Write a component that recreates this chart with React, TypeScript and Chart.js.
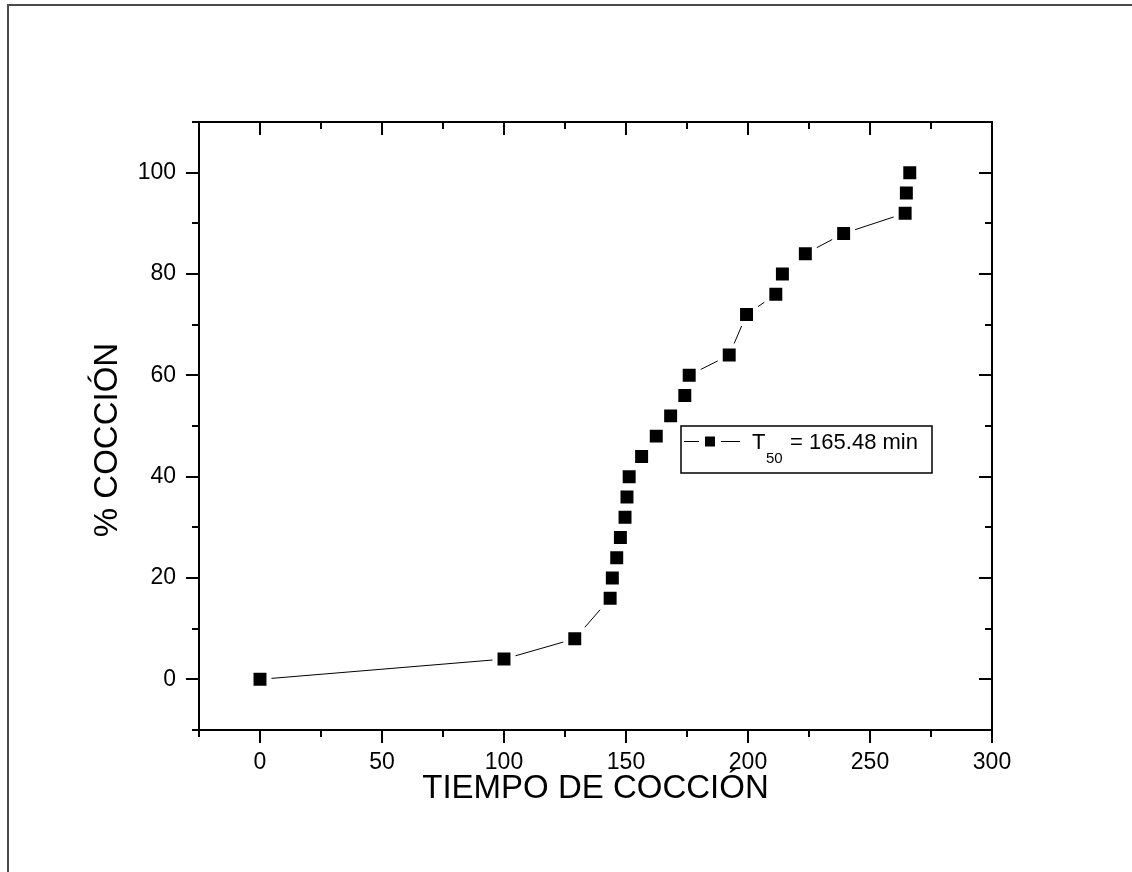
import React, { useEffect, useRef } from 'react';
import { Chart, registerables } from 'chart.js';

Chart.register(...registerables);

// ---- Data ----
const cookingTime = [0, 100, 129, 143.5, 144.4, 146.2, 147.7, 149.6, 150.4, 151.3, 156.4, 162.4, 168.3, 174.1, 175.9, 192.3, 199.4, 211.4, 214.1, 223.5, 239.2, 264.4, 264.9, 266.3];
const cookedPercent = [0, 4, 8, 16, 20, 24, 28, 32, 36, 40, 44, 48, 52, 56, 60, 64, 72, 76, 80, 84, 88, 92, 96, 100];

const xMajorTicks = [0, 50, 100, 150, 200, 250, 300];
const xMinorTicks = [-25, 25, 75, 125, 175, 225, 275];
const yMajorTicks = [0, 20, 40, 60, 80, 100];
const yMinorTicks = [-10, 10, 30, 50, 70, 90, 110];

const xTitle = 'TIEMPO DE COCCIÓN';
const yTitle = '% COCCIÓN';
const legendMain = 'T';
const legendSub = '50';
const legendRest = ' = 165.48 min';

const FONT = '"Liberation Sans", Arial, Helvetica, sans-serif';

const framePlugin = {
  id: 'originFrame',
  beforeDraw(chart: any) {
    const ctx = chart.ctx;
    ctx.save();
    ctx.fillStyle = '#ffffff';
    ctx.fillRect(0, 0, chart.width, chart.height);
    ctx.fillStyle = '#4a4a4a';
    ctx.fillRect(7, 4, chart.width - 7, 2);
    ctx.fillRect(7, 4, 2, chart.height - 4);
    ctx.restore();
  },
  afterDraw(chart: any) {
    const ctx = chart.ctx;
    const { left, right, top, bottom } = chart.chartArea;
    const xs = chart.scales.x;
    const ys = chart.scales.y;
    ctx.save();
    ctx.strokeStyle = '#000';
    ctx.lineWidth = 2;
    ctx.strokeRect(left, top, right - left, bottom - top);
    const major = 13;
    const minor = 7;
    ctx.beginPath();
    const xTick = (v: number, len: number) => {
      const p = Math.round(xs.getPixelForValue(v));
      ctx.moveTo(p, bottom);
      ctx.lineTo(p, bottom + len);
      ctx.moveTo(p, top);
      ctx.lineTo(p, top + len);
    };
    const yTick = (v: number, len: number) => {
      const p = Math.round(ys.getPixelForValue(v));
      ctx.moveTo(left - len, p);
      ctx.lineTo(left, p);
      ctx.moveTo(right - len, p);
      ctx.lineTo(right, p);
    };
    xMajorTicks.forEach((v) => xTick(v, major));
    xMinorTicks.forEach((v) => xTick(v, minor));
    yMajorTicks.forEach((v) => yTick(v, major));
    yMinorTicks.forEach((v) => yTick(v, minor));
    ctx.stroke();

    // Y axis title (rotated), centred slightly below the plot centre as in the reference
    ctx.fillStyle = '#000';
    ctx.font = `33px ${FONT}`;
    ctx.textAlign = 'center';
    ctx.textBaseline = 'middle';
    ctx.save();
    ctx.translate(108, (top + bottom) / 2 + 14);
    ctx.rotate(-Math.PI / 2);
    ctx.fillText(yTitle, 0, 0);
    ctx.restore();

    // Legend box
    const lx = left + 482;
    const ly = top + 304;
    const lw = 251;
    const lh = 47;
    ctx.lineWidth = 1.5;
    ctx.strokeRect(lx, ly, lw, lh);
    const cy = ly + 15.5;
    ctx.lineWidth = 1;
    ctx.beginPath();
    ctx.moveTo(lx + 3, cy);
    ctx.lineTo(lx + 18, cy);
    ctx.moveTo(lx + 40, cy);
    ctx.lineTo(lx + 59, cy);
    ctx.stroke();
    ctx.fillRect(lx + 24, cy - 5, 10, 10);
    ctx.textBaseline = 'alphabetic';
    ctx.textAlign = 'left';
    ctx.font = `22px ${FONT}`;
    ctx.fillText(legendMain, lx + 71, ly + 23);
    ctx.font = `15px ${FONT}`;
    ctx.fillText(legendSub, lx + 85, ly + 37);
    ctx.font = `22px ${FONT}`;
    ctx.fillText(legendRest, lx + 103, ly + 23);
    ctx.restore();
  },
};

export default function App() {
  const canvasRef = useRef<HTMLCanvasElement | null>(null);

  useEffect(() => {
    if (!canvasRef.current) return;
    const chart = new Chart(canvasRef.current, {
      type: 'scatter',
      data: {
        datasets: [
          {
            label: 'T50 = 165.48 min',
            data: cookingTime.map((x, i) => ({ x, y: cookedPercent[i] })),
            showLine: true,
            borderColor: '#000',
            borderWidth: 1,
            tension: 0,
            pointStyle: 'rect',
            pointRadius: 12.7,
            pointHoverRadius: 12.7,
            pointBackgroundColor: '#000',
            pointBorderColor: '#fff',
            pointBorderWidth: 5,
            clip: false,
          } as any,
        ],
      },
      options: {
        animation: false,
        responsive: true,
        maintainAspectRatio: false,
        layout: { padding: { top: 122, right: 140, left: 0, bottom: 0 } },
        plugins: {
          legend: { display: false },
          tooltip: { enabled: false },
        },
        events: [],
        scales: {
          x: {
            type: 'linear',
            min: -25,
            max: 300,
            afterBuildTicks: (s: any) => {
              s.ticks = xMajorTicks.map((v) => ({ value: v }));
            },
            afterFit: (s: any) => {
              s.height = 142;
            },
            grid: { display: false, drawTicks: false },
            border: { display: false },
            ticks: {
              padding: 19,
              color: '#000',
              autoSkip: false,
              maxRotation: 0,
              font: { family: FONT, size: 23 },
            },
            title: {
              display: true,
              text: xTitle,
              color: '#000',
              font: { family: FONT, size: 33 },
              padding: { top: 0, bottom: 63 },
            },
          },
          y: {
            type: 'linear',
            min: -10,
            max: 110,
            afterBuildTicks: (s: any) => {
              s.ticks = yMajorTicks.map((v) => ({ value: v }));
            },
            afterFit: (s: any) => {
              s.width = 199;
            },
            grid: { display: false, drawTicks: false },
            border: { display: false },
            ticks: {
              padding: 23,
              color: '#000',
              autoSkip: false,
              font: { family: FONT, size: 23 },
            },
            title: { display: false },
          },
        },
      } as any,
      plugins: [framePlugin],
    });
    return () => chart.destroy();
  }, []);

  return (
    <div style={{ position: 'absolute', left: 0, top: 0, width: 1132, height: 872, background: '#fff' }}>
      <canvas ref={canvasRef} />
    </div>
  );
}
